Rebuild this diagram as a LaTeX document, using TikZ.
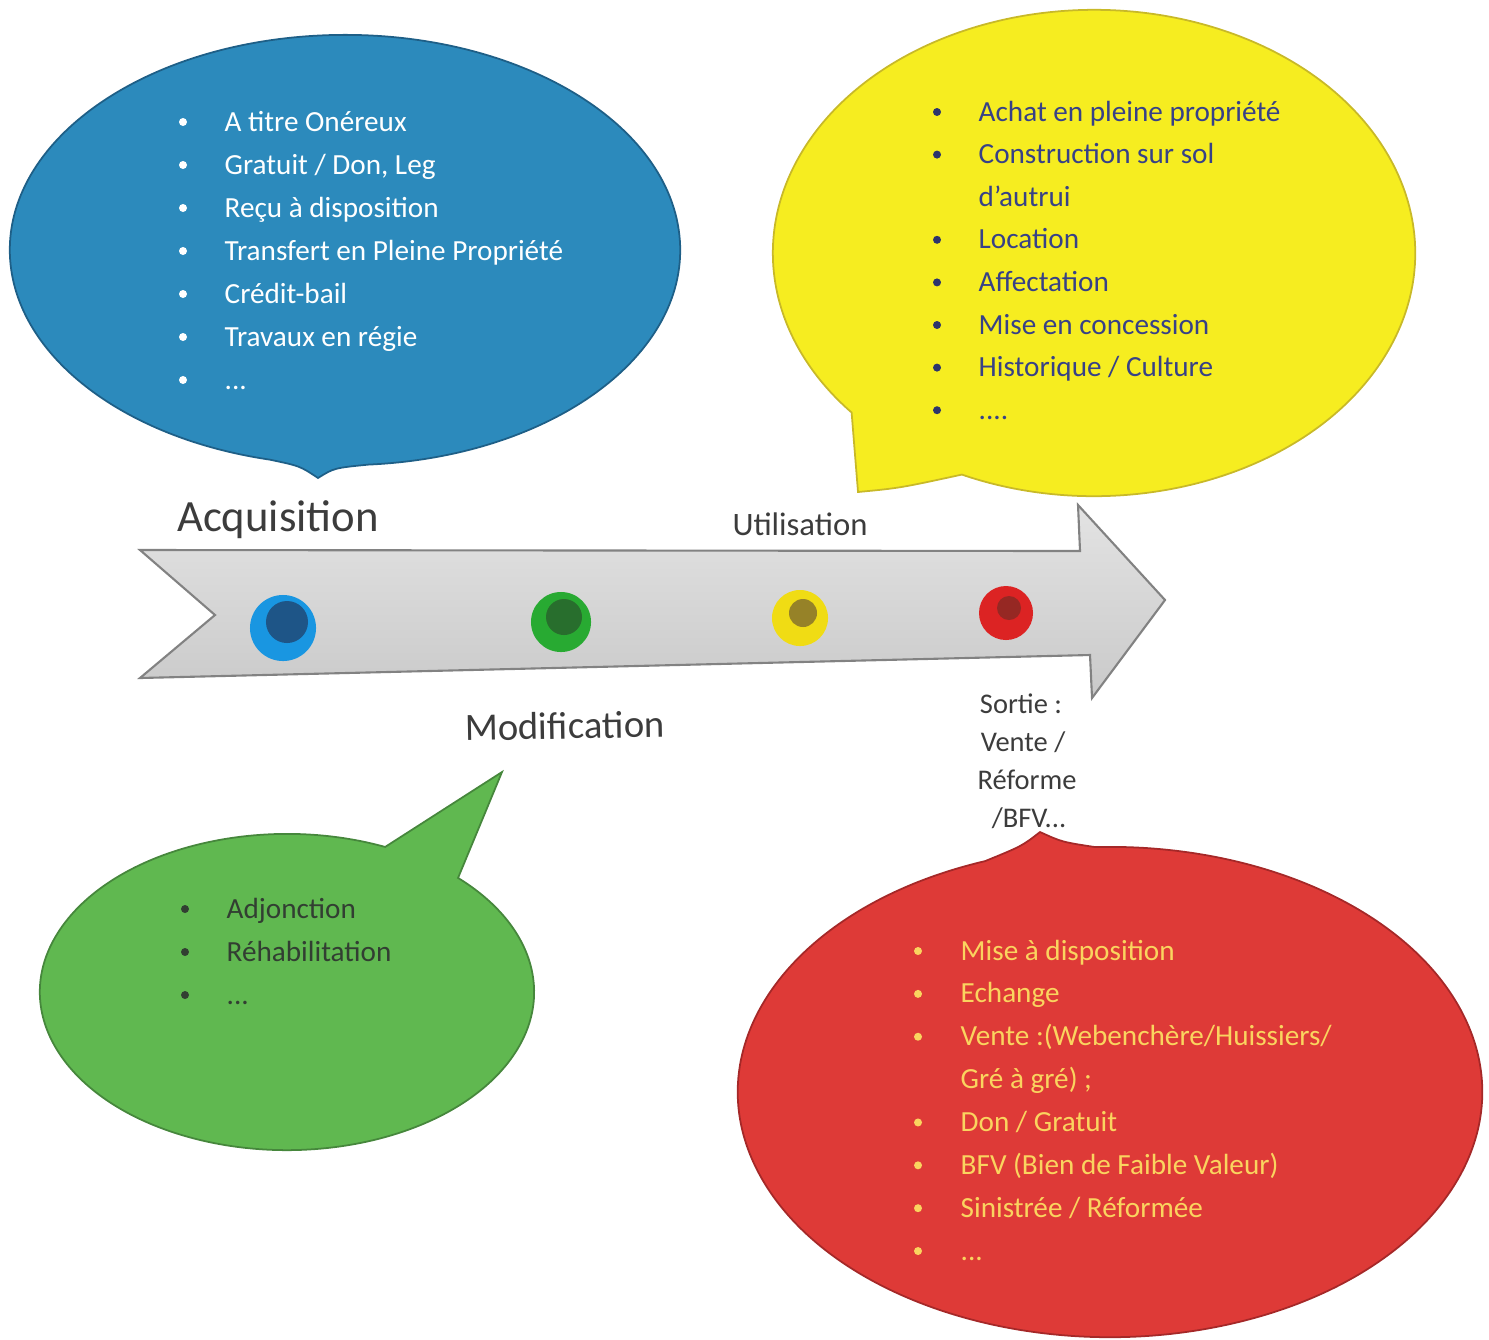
\documentclass[tikz,border=0pt]{standalone}
\usepackage{fontspec}
\setmainfont{Carlito}
\usetikzlibrary{calc}
\newcommand\mydotsA{...}
\newcommand\mydotsB{....}
\definecolor{bubblue}{RGB}{44,138,188}
\definecolor{bubblueline}{RGB}{30,95,135}
\definecolor{bubyellow}{RGB}{246,237,32}
\definecolor{bubyellowline}{RGB}{200,185,40}
\definecolor{bubgreen}{RGB}{96,184,80}
\definecolor{bubgreenline}{RGB}{70,135,60}
\definecolor{bubred}{RGB}{222,58,55}
\definecolor{bubredline}{RGB}{165,40,40}
\definecolor{ytext}{RGB}{55,65,135}
\definecolor{rtext}{RGB}{250,212,95}
\definecolor{gtext}{RGB}{50,62,50}
\definecolor{labtext}{RGB}{60,60,60}
\definecolor{arrowline}{RGB}{130,130,130}
\definecolor{btnblue}{RGB}{25,150,225}
\definecolor{btnblueC}{RGB}{30,85,135}
\definecolor{btngreen}{RGB}{40,170,50}
\definecolor{btngreenC}{RGB}{40,110,45}
\definecolor{btnyellow}{RGB}{240,220,20}
\definecolor{btnyellowC}{RGB}{150,130,40}
\definecolor{btnred}{RGB}{220,35,35}
\definecolor{btnredC}{RGB}{150,40,35}
\begin{document}
\begin{tikzpicture}[x=0.01cm,y=0.01cm,
  litem/.style={anchor=base west, inner sep=0pt, font=\fontsize{8.3}{10}\selectfont},
  lab/.style={anchor=base, inner sep=0pt, text=labtext},
  bub/.style={line width=0.5pt},
  dotb/.style={circle, inner sep=0pt, minimum size=0.08cm}]
\useasboundingbox (0,0) rectangle (1489,-1339);

% ---------- blue bubble ----------
\path[bub, fill=bubblue, draw=bubblueline]
  ($(345,-250)+(274:3.35cm and 2.15cm)$)
  arc[start angle=274, end angle=617, x radius=3.35cm, y radius=2.15cm]
  .. controls (300,-466) .. (318,-478) .. controls (334,-468) .. cycle;

% ---------- yellow bubble ----------
\path[bub, fill=bubyellow, draw=bubyellowline]
  ($(1094,-253)+(245.7:3.21cm and 2.43cm)$)
  arc[start angle=245.7, end angle=581, x radius=3.21cm, y radius=2.43cm]
  .. controls (855,-455) .. (858,-492) .. controls (900,-488) .. cycle;

% ---------- green bubble ----------
\path[bub, fill=bubgreen, draw=bubgreenline]
  ($(287,-992)+(66.6:2.47cm and 1.58cm)$)
  arc[start angle=66.6, end angle=406.2, x radius=2.47cm, y radius=1.58cm]
  -- (502,-772) -- cycle;

% ---------- red bubble ----------
\path[bub, fill=bubred, draw=bubredline]
  ($(1110,-1092)+(109.6:3.72cm and 2.45cm)$)
  arc[start angle=109.6, end angle=452.3, x radius=3.72cm, y radius=2.45cm]
  .. controls (1062,-842) .. (1040,-832) .. controls (1022,-846) .. cycle;

% ---------- timeline arrow ----------
\path[top color=gray!22, bottom color=gray!42, draw=arrowline, line width=0.6pt]
  (140,-550) -- (1080,-551) -- (1078,-505) -- (1165,-600) -- (1092,-698)
  -- (1090,-655) -- (140,-678) -- (215,-615) -- cycle;

% ---------- buttons ----------
\node[circle, inner sep=0pt, minimum size=0.66cm, fill=btnblue] (cb) at (283,-628) {};
\fill[btnblueC] (287,-622) circle (2.1mm);
\node[circle, inner sep=0pt, minimum size=0.60cm, fill=btngreen] (cg) at (561,-622) {};
\fill[btngreenC] (564,-617) circle (1.8mm);
\node[circle, inner sep=0pt, minimum size=0.56cm, fill=btnyellow] (cy) at (800,-618) {};
\fill[btnyellowC] (803,-613) circle (1.4mm);
\node[circle, inner sep=0pt, minimum size=0.54cm, fill=btnred] (cr) at (1006,-613) {};
\fill[btnredC] (1009,-608) circle (1.2mm);

% ---------- stage labels ----------
\node[lab, font=\fontsize{12.7}{14}\selectfont] (acq) at (278,-531) {Acquisition};
\node[lab, font=\fontsize{9.3}{11}\selectfont] (uti) at (800,-535) {Utilisation};
\node[lab, font=\fontsize{11}{13}\selectfont, rotate=1] (mod) at (565,-739) {Modification};
\node[lab, font=\fontsize{8.1}{10}\selectfont] (s1) at (1021,-713) {Sortie :};
\node[lab, font=\fontsize{8.1}{10}\selectfont] (s2) at (1023,-751) {Vente /};
\node[lab, font=\fontsize{8.1}{10}\selectfont] (s3) at (1027,-789) {Réforme};
\node[lab, font=\fontsize{8.1}{10}\selectfont] (s4) at (1029,-827) {/BFV...};

% ---------- blue list ----------
\foreach \t [count=\i] in {A titre Onéreux,{Gratuit / Don, Leg},Reçu à disposition,Transfert en Pleine Propriété,Crédit-bail,Travaux en régie,\mydotsA}{
  \node[litem, text=white] (bt\i) at (224,-131-43*\i+43) {\t};
  \node[dotb, fill=white] (bb\i) at (183,-122-43*\i+43) {};
}

% ---------- yellow list ----------
\foreach \t [count=\i] in {Achat en pleine propriété,Construction sur sol,d’autrui,Location,Affectation,Mise en concession,Historique / Culture,\mydotsB}{
  \node[litem, text=ytext] (yt\i) at (978,-121-42.6*\i+42.6) {\t};
  \ifnum\i=3\relax\else
    \node[dotb, fill=ytext!80!black] (yb\i) at (937,-112-42.6*\i+42.6) {};
  \fi
}

% ---------- green list ----------
\foreach \t [count=\i] in {Adjonction,Réhabilitation,\mydotsA}{
  \node[litem, text=gtext] (gt\i) at (226,-918-43*\i+43) {\t};
  \node[dotb, fill=gtext] (gb\i) at (185,-909-43*\i+43) {};
}

% ---------- red list ----------
\foreach \t [count=\i] in {Mise à disposition,Echange,Vente :(Webenchère/Huissiers/,Gré à gré) ;,Don / Gratuit,BFV (Bien de Faible Valeur),Sinistrée / Réformée,\mydotsA}{
  \node[litem, text=rtext] (rt\i) at (960,-960-42.86*\i+42.86) {\t};
  \ifnum\i=4\relax\else
    \node[dotb, fill=rtext] (rb\i) at (918,-951-42.86*\i+42.86) {};
  \fi
}
\end{tikzpicture}
\end{document}
